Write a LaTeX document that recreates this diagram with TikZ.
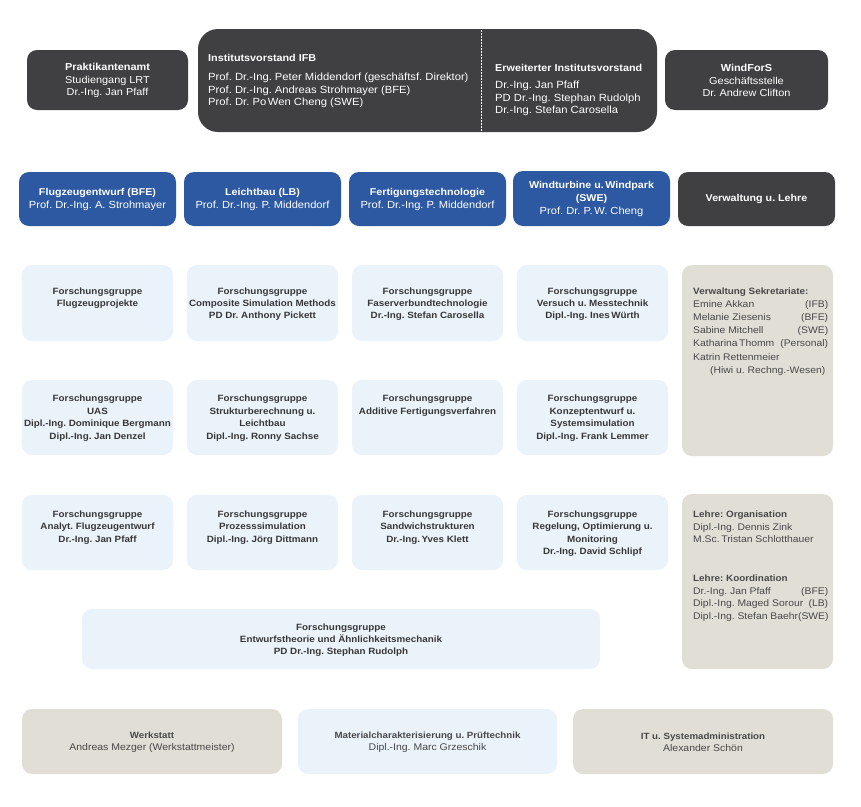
\documentclass[tikz,border=0pt]{standalone}
\usepackage{fontspec}
\setmainfont{Liberation Sans}[FakeStretch=1.08]
\definecolor{cDark}{RGB}{64,64,66}
\definecolor{cBlue}{RGB}{45,89,163}
\definecolor{cLight}{RGB}{234,242,250}
\definecolor{cBeige}{RGB}{225,222,214}
\definecolor{cText}{RGB}{55,55,55}
\definecolor{cGray}{RGB}{72,72,72}
\newcommand\fs[2]{\fontsize{#1}{#2}\selectfont}
\newcommand\mybox[6]{\node[#2, minimum width={(#5)-(#3)}, minimum height={(#6)-(#4)}] (#1) at (#3,#4) {};}
\newcommand\lr[2]{\makebox[135pt][l]{#1\hfill#2}}
\begin{document}
\frenchspacing
\begin{tikzpicture}[x=1pt,y=-1pt,
  box/.style={anchor=north west, inner sep=0pt, outer sep=0pt, draw=none},
  darkbox/.style={box, fill=cDark, rounded corners=10pt},
  bluebox/.style={box, fill=cBlue, rounded corners=10pt},
  lightbox/.style={box, fill=cLight, rounded corners=10pt},
  beigebox/.style={box, fill=cBeige, rounded corners=10pt},
  wtxt/.style={text=white, inner sep=0pt, align=center},
  toptxt/.style={wtxt, font=\fs{10.1}{12.5}},
  topleft/.style={text=white, inner sep=0pt, align=left, anchor=north west, font=\fs{10.4}{12.6}},
  toptitle/.style={text=white, inner sep=0pt, anchor=north west, font=\fs{10.0}{12}\bfseries},
  bluetxt/.style={wtxt, font=\fs{10.3}{13}},
  rtxt/.style={text=cText, inner sep=0pt, align=center, anchor=north, font=\fs{9.1}{12.4}\bfseries},
  coltxt/.style={text=cGray, inner sep=0pt, align=left, anchor=north west},
  bottxt/.style={text=cGray, inner sep=0pt, align=center, font=\fs{9.7}{12}},
]
\path[use as bounding box, fill=white] (0,0) rectangle (861,806);

% top row
\mybox{prak}{darkbox}{27}{50}{188}{110}
\mybox{inst}{darkbox, rounded corners=20pt}{198}{29}{657}{132}
\mybox{wind}{darkbox}{665}{50}{828}{110}
\coordinate (divtop) at (481,30);
\coordinate (divbot) at (481,132);
\draw[white, line width=0.8pt, dash pattern=on 1.5pt off 1.5pt] (divtop) -- (divbot);

\node[toptxt] (prakT) at (107.5,80.5) {{\bfseries Praktikantenamt}\\Studiengang LRT\\Dr.-Ing. Jan Pfaff};
\node[toptitle] (instH) at (208,53.8) {Institutsvorstand IFB};
\node[topleft] (instT) at (208,73) {Prof. Dr.-Ing. Peter Middendorf (geschäftsf. Direktor)\\Prof. Dr.-Ing. Andreas Strohmayer (BFE)\\Prof. Dr. Po\,Wen Cheng (SWE)};
\node[toptitle] (erwH) at (495,63.8) {Erweiterter Institutsvorstand};
\node[topleft] (erwT) at (495,81) {Dr.-Ing. Jan Pfaff\\PD Dr.-Ing. Stephan Rudolph\\Dr.-Ing. Stefan Carosella};
\node[toptxt] (windT) at (746.5,80.5) {{\bfseries WindForS}\\Geschäftsstelle\\Dr. Andrew Clifton};

% blue row
\mybox{bfe}{bluebox}{19}{172}{176}{226}
\mybox{lb}{bluebox}{184}{172}{341}{226}
\mybox{ft}{bluebox}{349}{172}{506}{226}
\mybox{swe}{bluebox}{513}{171}{670}{226}
\mybox{vl}{darkbox}{678}{172}{835}{226}
\node[bluetxt] (bfeT) at (97.5,199) {{\fs{9.9}{13}\bfseries Flugzeugentwurf (BFE)}\\Prof. Dr.-Ing. A. Strohmayer};
\node[bluetxt] (lbT) at (262.5,199) {{\fs{9.9}{13}\bfseries Leichtbau (LB)}\\Prof. Dr.-Ing. P. Middendorf};
\node[bluetxt] (ftT) at (427.5,199) {{\fs{9.9}{13}\bfseries Fertigungstechnologie}\\Prof. Dr.-Ing. P. Middendorf};
\node[bluetxt] (sweT) at (591.5,198.5) {{\fs{9.9}{13}\bfseries Windturbine u.\,Windpark}\\{\fs{9.9}{13}\bfseries (SWE)}\\Prof. Dr. P.\,W. Cheng};
\node[bluetxt] (vlT) at (756.5,198.5) {\fs{9.9}{13}\bfseries Verwaltung u. Lehre};

% research groups
\mybox{r11}{lightbox}{22}{265}{173}{341}
\mybox{r12}{lightbox}{187}{265}{338}{341}
\mybox{r13}{lightbox}{352}{265}{503}{341}
\mybox{r14}{lightbox}{517}{265}{668}{341}
\mybox{r21}{lightbox}{22}{380}{173}{455}
\mybox{r22}{lightbox}{187}{380}{338}{455}
\mybox{r23}{lightbox}{352}{380}{503}{455}
\mybox{r24}{lightbox}{517}{380}{668}{455}
\mybox{r31}{lightbox}{22}{495}{173}{570}
\mybox{r32}{lightbox}{187}{495}{338}{570}
\mybox{r33}{lightbox}{352}{495}{503}{570}
\mybox{r34}{lightbox}{517}{495}{668}{570}
\mybox{rw}{lightbox}{82}{609}{600}{669}

\node[rtxt] (r11T) at (97.5,287.3) {Forschungsgruppe\\Flugzeugprojekte};
\node[rtxt] (r12T) at (262.5,287.3) {Forschungsgruppe\\Composite Simulation Methods\\PD Dr. Anthony Pickett};
\node[rtxt] (r13T) at (427.5,287.3) {Forschungsgruppe\\Faserverbundtechnologie\\Dr.-Ing. Stefan Carosella};
\node[rtxt] (r14T) at (592.5,287.3) {Forschungsgruppe\\Versuch u. Messtechnik\\Dipl.-Ing. Ines\,Würth};
\node[rtxt] (r21T) at (97.5,395) {Forschungsgruppe\\UAS\\Dipl.-Ing. Dominique Bergmann\\Dipl.-Ing. Jan Denzel};
\node[rtxt] (r22T) at (262.5,395) {Forschungsgruppe\\Strukturberechnung u.\\Leichtbau\\Dipl.-Ing. Ronny Sachse};
\node[rtxt] (r23T) at (427.5,395) {Forschungsgruppe\\Additive Fertigungsverfahren};
\node[rtxt] (r24T) at (592.5,395) {Forschungsgruppe\\Konzeptentwurf u.\\Systemsimulation\\Dipl.-Ing. Frank Lemmer};
\node[rtxt] (r31T) at (97.5,510.7) {Forschungsgruppe\\Analyt. Flugzeugentwurf\\Dr.-Ing. Jan Pfaff};
\node[rtxt] (r32T) at (262.5,510.7) {Forschungsgruppe\\Prozesssimulation\\Dipl.-Ing. Jörg Dittmann};
\node[rtxt] (r33T) at (427.5,510.7) {Forschungsgruppe\\Sandwichstrukturen\\Dr.-Ing.\,Yves Klett};
\node[rtxt] (r34T) at (592.5,510.7) {Forschungsgruppe\\Regelung, Optimierung u.\\Monitoring\\Dr.-Ing. David Schlipf};
\node[rtxt] (rwT) at (341,623.3) {Forschungsgruppe\\Entwurfstheorie und Ähnlichkeitsmechanik\\PD Dr.-Ing. Stephan Rudolph};

% right column
\mybox{verw}{beigebox}{682}{265}{833}{456}
\mybox{lehre}{beigebox}{682}{494}{833}{669}
\node[coltxt, font=\fs{9.6}{13.2}] (verwT) at (693,287.2) {{\bfseries\fs{9.15}{13.2}Verwaltung Sekretariate:}\\
\lr{Emine Akkan}{(IFB)}\\
\lr{Melanie Ziesenis}{(BFE)}\\
\lr{Sabine Mitchell}{(SWE)}\\
\lr{Katharina\,Thomm}{(Personal)}\\
Katrin Rettenmeier\\
\hspace*{17pt}(Hiwi u. Rechng.-Wesen)};
\node[coltxt, font=\fs{9.6}{12.8}] (lehreT) at (693,510.5) {{\bfseries\fs{9.15}{12.8}Lehre: Organisation}\\
Dipl.-Ing. Dennis Zink\\
M.Sc.\,Tristan Schlotthauer\\[25.6pt]
{\bfseries\fs{9.15}{12.8}Lehre: Koordination}\\
\lr{Dr.-Ing. Jan Pfaff}{(BFE)}\\
\lr{Dipl.-Ing. Maged Sorour}{(LB)}\\
\lr{Dipl.-Ing. Stefan Baehr}{(SWE)}};

% bottom row
\mybox{werk}{beigebox}{22}{709}{282}{774}
\mybox{mat}{lightbox}{298}{709}{557}{774}
\mybox{it}{beigebox}{573}{709}{833}{774}
\node[bottxt] (werkT) at (152,742) {{\bfseries\fs{9.0}{12}Werkstatt}\\Andreas Mezger (Werkstattmeister)};
\node[bottxt] (matT) at (427.5,742) {{\bfseries\fs{9.0}{12}Materialcharakterisierung u. Prüftechnik}\\Dipl.-Ing. Marc Grzeschik};
\node[bottxt] (itT) at (703,742) {{\bfseries\fs{9.0}{12}IT u. Systemadministration}\\Alexander Schön};
\end{tikzpicture}
\end{document}
